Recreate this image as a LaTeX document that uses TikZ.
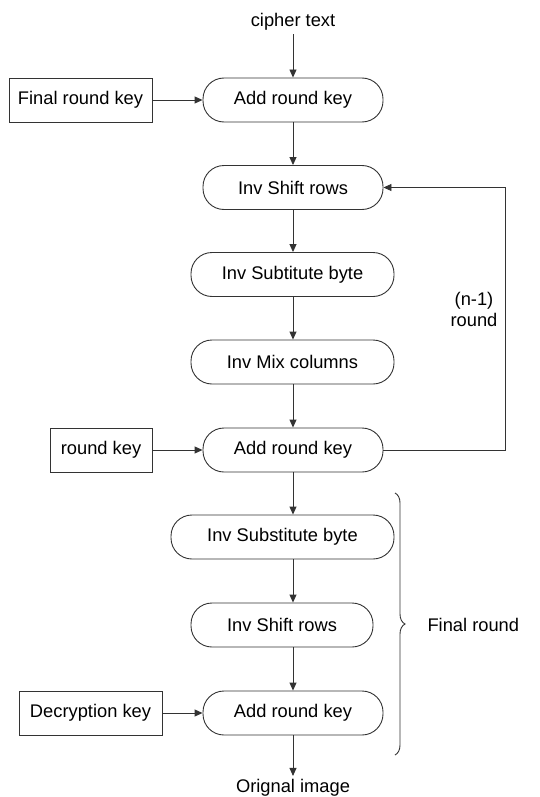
\documentclass[tikz,border=0pt]{standalone}
\usepackage{fontspec}
\setmainfont{Liberation Sans}
\usetikzlibrary{arrows.meta,decorations.pathreplacing,calc}
\begin{document}
\begin{tikzpicture}[x=1pt,y=-1pt,
  line/.style={draw=black!80, line width=0.9pt},
  txt/.style={font=\fontsize{18.3}{21}\selectfont},
  proc/.style={line, txt, rounded corners=21pt, minimum height=44pt, inner sep=0pt},
  keybox/.style={line, txt, minimum height=44pt, inner sep=0pt},
  arr/.style={line, -{Triangle[length=8pt,width=7pt]}}]
\useasboundingbox (0,0) rectangle (540,797);
\node[txt] (ct) at (293,22) {cipher text};
\node[proc, minimum width=180pt] (a1) at (293,100) {Add round key};
\node[keybox, minimum width=143pt] (fk) at (80.5,100) {Final round key};
\node[proc, minimum width=180pt] (s1) at (293,187.5) {Inv Shift rows};
\node[proc, minimum width=203pt] (sb) at (292.5,274.5) {Inv Subtitute byte};
\node[proc, minimum width=203pt] (mc) at (292.5,362) {Inv Mix columns};
\node[proc, minimum width=180pt] (a2) at (293,450) {Add round key};
\node[keybox, minimum width=102pt] (rk) at (101,450) {round key};
\node[proc, minimum width=223pt] (sb2) at (282.5,537) {Inv Substitute byte};
\node[proc, minimum width=182pt] (s2) at (282,625) {Inv Shift rows};
\node[proc, minimum width=180pt] (a3) at (293,713) {Add round key};
\node[keybox, minimum width=143pt] (dk) at (90.5,713) {Decryption key};
\node[txt] (oi) at (293,788) {Orignal image};
\node[txt, align=center] (nr) at (474,309) {(n-1)\\round};
\node[txt, anchor=west] (fr) at (424,625) {Final round};

\draw[arr] (ct) -- (a1);
\draw[arr] (fk) -- (a1);
\draw[arr] (a1) -- (s1);
\draw[arr] (s1.south) -- (s1.south |- sb.north);
\draw[arr] (s1.south |- sb.south) -- (s1.south |- mc.north);
\draw[arr] (a2 |- mc.south) -- (a2.north);
\draw[arr] (rk) -- (a2);
\draw[arr] (a2.east) -- ++(122,0) |- (s1.east);
\draw[arr] (a2.south) -- (a2.south |- sb2.north);
\draw[arr] (a2.south |- sb2.south) -- (a2.south |- s2.north);
\draw[arr] (a3 |- s2.south) -- (a3.north);
\draw[arr] (dk) -- (a3);
\draw[arr] (a3) -- (oi);
\draw[line, decorate, decoration={brace, amplitude=10pt}] (395,493) -- (395,755);
\end{tikzpicture}
\end{document}
